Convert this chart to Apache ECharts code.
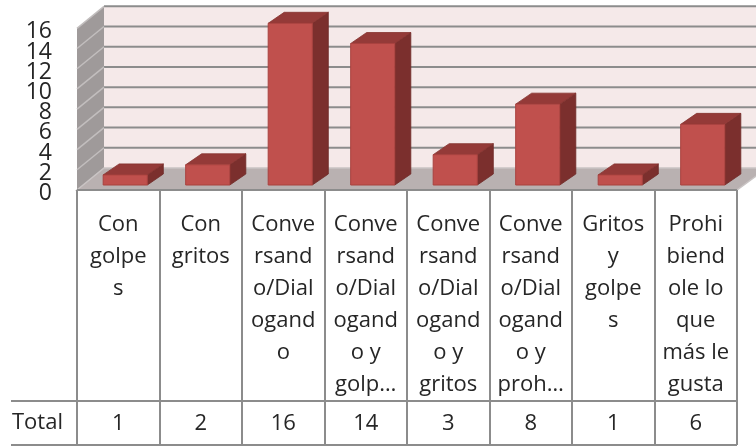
<!DOCTYPE html>
<html><head><meta charset="utf-8">
<script src="https://cdn.jsdelivr.net/npm/echarts@6/dist/echarts.min.js"></script>
<style>html,body{margin:0;padding:0;background:#fff}#c{width:756px;height:446px}</style>
</head><body><div id="c"></div>
<script>
// ---- data ----
var categories = [
  'Con\ngolpe\ns',
  'Con\ngritos',
  'Conve\nrsand\no/Dial\nogand\no',
  'Conve\nrsand\no/Dial\nogand\no y\ngolp…',
  'Conve\nrsand\no/Dial\nogand\no y\ngritos',
  'Conve\nrsand\no/Dial\nogand\no y\nproh…',
  'Gritos\ny\ngolpe\ns',
  'Prohi\nbiend\nole lo\nque\nmás le\ngusta'
];
var seriesName = 'Total';
var values = [1, 2, 16, 14, 3, 8, 1, 6];
var yTicks = [0, 2, 4, 6, 8, 10, 12, 14, 16];

// ---- style ----
var FONT = '"Open Sans", "Liberation Sans", sans-serif';
var FS = 22;
var TXT = '#262626';
var LINE = '#8c8c8c';
var yMax = yTicks[yTicks.length - 1];
var DXL = 27, DXR = 30, DY = -22;     // wall depth
var BDX = 16, BDY = -11;              // bar depth
var FX = 7, FY = -5;                  // bar inset from floor front
var TABLE_BOTTOM = 445;

function renderWalls(params, api) {
  var cs = params.coordSys;
  var L = cs.x, R = cs.x + cs.width;
  var y0 = api.coord([0, 0])[1];
  var yT = api.coord([0, yMax])[1];
  var band = api.size([1, 0])[0];
  var ch = [];
  ch.push({type: 'polygon', shape: {points: [[L + DXL, yT + DY], [R + DXR, yT + DY], [R + DXR, y0 + DY], [L + DXL, y0 + DY]]}, style: {fill: '#f5e9e9'}});
  ch.push({type: 'polygon', shape: {points: [[L, y0], [L + DXL, y0 + DY], [L + DXL, yT + DY], [L, yT]]}, style: {fill: '#9f9a9a'}});
  ch.push({type: 'polygon', shape: {points: [[L, y0], [R, y0], [R + DXR, y0 + DY], [L + DXL, y0 + DY]]}, style: {fill: '#b9b1b1', stroke: '#c9c4c4', lineWidth: 1.5}});
  yTicks.forEach(function (t) {
    var y = api.coord([0, t])[1];
    if (t > 0) {
      ch.push({type: 'line', shape: {x1: L + DXL, y1: y + DY, x2: R + DXR, y2: y + DY}, style: {stroke: LINE, lineWidth: 2}});
      ch.push({type: 'line', shape: {x1: L, y1: y, x2: L + DXL, y2: y + DY}, style: {stroke: '#c2bebe', lineWidth: 1.5}});
    }
    // value-axis tick label
    ch.push({type: 'text', style: {text: String(t), x: L - 25, y: y + 3.5, align: 'right', verticalAlign: 'middle',
      font: '23px ' + FONT, fill: TXT}});
  });
  // data table grid
  ch.push({type: 'line', shape: {x1: L, y1: y0, x2: R, y2: y0}, style: {stroke: LINE, lineWidth: 2}});
  for (var k = 0; k <= categories.length; k++) {
    var x = Math.round(L + k * band);
    ch.push({type: 'line', shape: {x1: x, y1: y0, x2: x, y2: TABLE_BOTTOM}, style: {stroke: LINE, lineWidth: 2}});
  }
  return {type: 'group', children: ch};
}

function renderBar(params, api) {
  var i = api.value(0), v = api.value(1);
  var b = api.coord([i, 0]);
  var t = api.coord([i, v]);
  var band = api.size([1, 0])[0];
  var w = band * 0.535;
  var x = b[0] + FX - w / 2;
  var by = b[1] + FY, ty = t[1] + FY;
  return {type: 'group', children: [
    {type: 'polygon', shape: {points: [[x + w, ty], [x + w + BDX, ty + BDY], [x + w + BDX, by + BDY], [x + w, by]]}, style: {fill: '#7b2f2d', stroke: '#6e2927', lineWidth: 0.8}},
    {type: 'polygon', shape: {points: [[x, ty], [x + w, ty], [x + w + BDX, ty + BDY], [x + BDX, ty + BDY]]}, style: {fill: '#943a38', stroke: '#85322f', lineWidth: 0.8}},
    {type: 'rect', shape: {x: x, y: ty, width: w, height: by - ty}, style: {fill: '#c0504d', stroke: '#a9423f', lineWidth: 1}}
  ]};
}

var chart = echarts.init(document.getElementById('c'), null, {renderer: 'canvas'});
chart.setOption({
  animation: false,
  backgroundColor: '#ffffff',
  grid: {left: 77, right: 19, top: 28.3, bottom: 256},
  xAxis: [{
    type: 'category', data: categories, gridIndex: 0, position: 'bottom',
    axisLine: {show: false}, axisTick: {show: false},
    axisLabel: {interval: 0, fontSize: FS, lineHeight: 32, margin: 19, color: TXT, fontFamily: FONT}
  }, {
    type: 'category', data: values.map(String), gridIndex: 0, position: 'bottom', offset: 211,
    axisLine: {show: false}, axisTick: {show: false},
    axisLabel: {interval: 0, fontSize: FS, lineHeight: 32, margin: 7, color: TXT, fontFamily: FONT}
  }],
  yAxis: {
    type: 'value', min: 0, max: yMax, interval: 2,
    axisLine: {show: false}, axisTick: {show: false}, splitLine: {show: false},
    axisLabel: {show: false}
  },
  graphic: [
    {type: 'line', shape: {x1: 11, y1: 401, x2: 737, y2: 401}, style: {stroke: LINE, lineWidth: 2}, z: 10},
    {type: 'line', shape: {x1: 11, y1: TABLE_BOTTOM, x2: 737, y2: TABLE_BOTTOM}, style: {stroke: LINE, lineWidth: 2}, z: 10},
    {type: 'text', x: 12, y: 423, style: {text: seriesName, font: FS + 'px ' + FONT, fill: TXT, verticalAlign: 'middle', align: 'left'}, z: 10}
  ],
  series: [{
    type: 'custom', name: 'walls', renderItem: renderWalls, data: [[0, 0]], z: 1, silent: true,
    encode: {x: 0, y: 1}
  }, {
    type: 'custom', name: seriesName, renderItem: renderBar, z: 2,
    data: values.map(function (v, i) { return [i, v]; }),
    encode: {x: 0, y: 1}
  }]
});
</script>
</body></html>
